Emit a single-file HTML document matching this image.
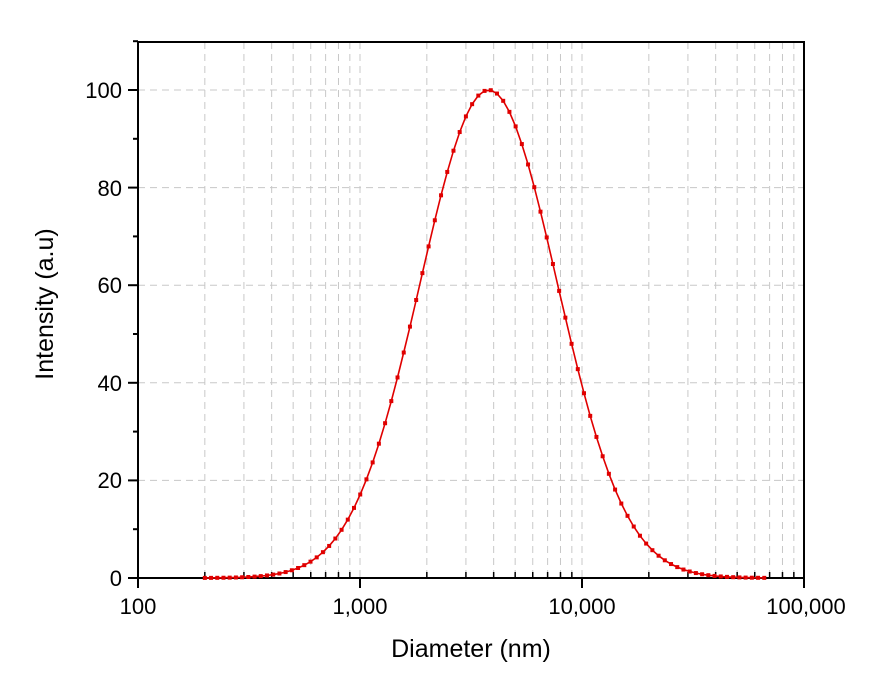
<!DOCTYPE html>
<html><head><meta charset="utf-8"><style>
body{margin:0;background:#fff;}
svg{display:block;font-family:"Liberation Sans",sans-serif;}
</style></head><body>
<svg id="s" width="886" height="677" viewBox="0 0 886 677" xmlns="http://www.w3.org/2000/svg">
<g id="grid" stroke="#c8c8c8" stroke-width="1" stroke-dasharray="7,5"></g>
<g id="ticks" stroke="#000" stroke-width="2"></g>
<rect x="138" y="42" width="666" height="536" fill="none" stroke="#000" stroke-width="2"/>
<g font-size="22" fill="#000" text-anchor="end">
<text x="122" y="586">0</text>
<text x="122" y="488">20</text>
<text x="122" y="391">40</text>
<text x="122" y="293">60</text>
<text x="122" y="196">80</text>
<text x="122" y="98">100</text>
</g>
<g font-size="22" fill="#000" text-anchor="middle">
<text x="138" y="614">100</text>
<text x="360" y="614">1,000</text>
<text x="582" y="614">10,000</text>
<text x="806" y="614">100,000</text>
<text x="471" y="657" font-size="25">Diameter (nm)</text>
<text transform="translate(53,304) rotate(-90)" font-size="25">Intensity (a.u)</text>
</g>
<polyline id="curve" fill="none" stroke="#e00000" stroke-width="1.6"/>
<g id="marks" fill="#e00000"></g>
</svg>
<script>
var ns="http://www.w3.org/2000/svg";
function el(p,t,a){var e=document.createElementNS(ns,t);for(var k in a)e.setAttribute(k,a[k]);document.getElementById(p).appendChild(e);}
function X(v){return 138+(Math.log10(v)-2)*222;}
function Y(v){return 578-v*4.88;}
for(var d=100;d<=10000;d*=10){for(var m=1;m<=9;m++){var x=X(d*m);
 if(m>1||d>100){el("grid","line",{x1:x,y1:42,x2:x,y2:578});}
 if(m==1){el("ticks","line",{x1:x,y1:578,x2:x,y2:588});}else{el("ticks","line",{x1:x,y1:578,x2:x,y2:572,"stroke-width":1.5});}
}}
el("ticks","line",{x1:804,y1:578,x2:804,y2:588});
for(var v=20;v<=100;v+=20){el("grid","line",{x1:138,y1:Y(v),x2:804,y2:Y(v)});}
for(var v=0;v<=110;v+=10){el("ticks","line",{x1:138,y1:Y(v),x2:v%20==0?128:133,y2:Y(v)});}
var mu=Math.log10(3800),sg=0.308,pts=[];
for(var l=Math.log10(200);l<=Math.log10(68000);l+=0.028){
 var x=138+(l-2)*222,y=Y(100*Math.exp(-0.5*Math.pow((l-mu)/sg,2)));
 pts.push(x.toFixed(1)+","+y.toFixed(1));
 el("marks","rect",{x:x-2,y:y-2,width:4,height:4});
}
document.getElementById("curve").setAttribute("points",pts.join(" "));
</script>
</body></html>
